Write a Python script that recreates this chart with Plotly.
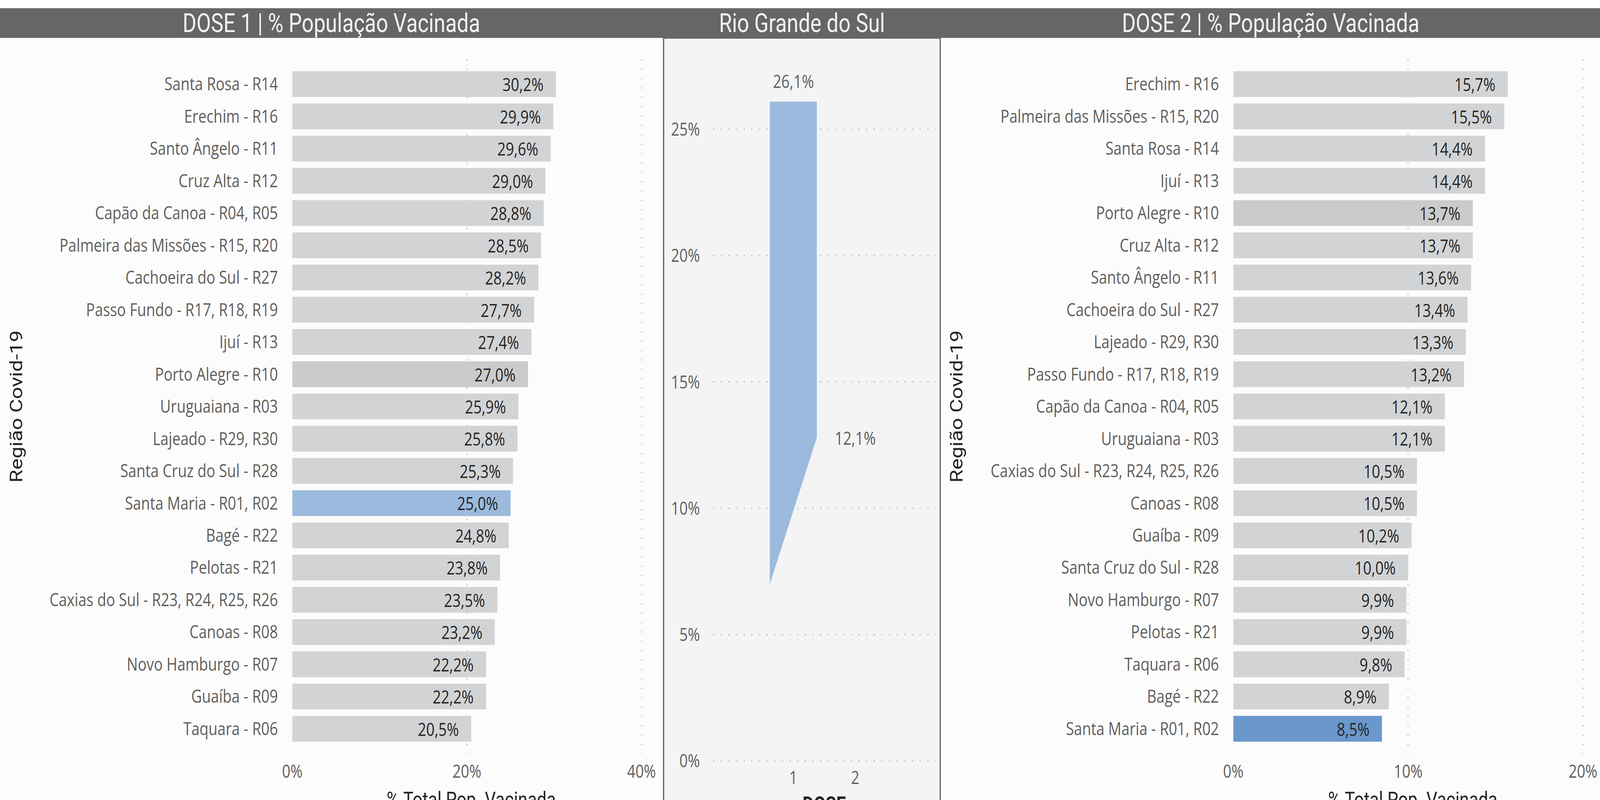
import plotly.graph_objects as go

W, H = 5020, 2047

# ---------------- data ----------------
dose1_regioes = [
    "Santa Rosa - R14", "Erechim - R16", "Santo Ângelo - R11", "Cruz Alta - R12",
    "Capão da Canoa - R04, R05", "Palmeira das Missões - R15, R20", "Cachoeira do Sul - R27",
    "Passo Fundo - R17, R18, R19", "Ijuí - R13", "Porto Alegre - R10", "Uruguaiana - R03",
    "Lajeado - R29, R30", "Santa Cruz do Sul - R28", "Santa Maria - R01, R02", "Bagé - R22",
    "Pelotas - R21", "Caxias do Sul - R23, R24, R25, R26", "Canoas - R08",
    "Novo Hamburgo - R07", "Guaíba - R09", "Taquara - R06",
]
dose1_pct = [30.2, 29.9, 29.6, 29.0, 28.8, 28.5, 28.2, 27.7, 27.4, 27.0, 25.9,
             25.8, 25.3, 25.0, 24.8, 23.8, 23.5, 23.2, 22.2, 22.2, 20.5]

dose2_regioes = [
    "Erechim - R16", "Palmeira das Missões - R15, R20", "Santa Rosa - R14", "Ijuí - R13",
    "Porto Alegre - R10", "Cruz Alta - R12", "Santo Ângelo - R11", "Cachoeira do Sul - R27",
    "Lajeado - R29, R30", "Passo Fundo - R17, R18, R19", "Capão da Canoa - R04, R05",
    "Uruguaiana - R03", "Caxias do Sul - R23, R24, R25, R26", "Canoas - R08", "Guaíba - R09",
    "Santa Cruz do Sul - R28", "Novo Hamburgo - R07", "Pelotas - R21", "Taquara - R06",
    "Bagé - R22", "Santa Maria - R01, R02",
]
dose2_pct = [15.7, 15.5, 14.4, 14.4, 13.7, 13.7, 13.6, 13.4, 13.3, 13.2, 12.1,
             12.1, 10.5, 10.5, 10.2, 10.0, 9.9, 9.9, 9.8, 8.9, 8.5]

rs_doses = [1, 2]
rs_pct = [26.1, 12.1]
rs_faixa_base = [7.0, 12.8]   # lower edge of the blue shape as drawn

x_ticks_d1 = [0, 20, 40]
x_ticks_d2 = [0, 10, 20]
y_ticks_rs = [0, 5, 10, 15, 20, 25]

# ---------------- styles ----------------
GRAY_BAR = "#D2D3D5"
SEL_GRAY = "#CBCBCB"
BLUE1 = "#9BBADD"
BLUE2 = "#6A98CC"
HEADER = "#666666"
TXT_GRAY = "#605E5C"
TXT_DARK = "#252423"
FONT = "Open Sans"
DIN = "Roboto"


def px_x(x):
    return x / W


def px_y(y):
    return 1 - y / H


def pct_labels(vals):
    return [f"{v}%" for v in vals]


def colors(regs, hl):
    out = []
    for r in regs:
        if r.startswith("Santa Maria"):
            out.append(hl)
        elif r.startswith("Porto Alegre"):
            out.append(SEL_GRAY)
        else:
            out.append(GRAY_BAR)
    return out


NB = "\u00a0\u00a0\u00a0"

fig = go.Figure()

fig.add_trace(go.Bar(
    x=dose1_pct, y=dose1_regioes, orientation="h",
    marker=dict(color=colors(dose1_regioes, BLUE1), line=dict(width=0)),
    texttemplate="%{x:.1f}%" + NB, textposition="inside", insidetextanchor="end",
    textfont=dict(family=FONT, size=46, color=TXT_DARK), constraintext="none",
    xaxis="x", yaxis="y", showlegend=False, hoverinfo="skip",
))

fig.add_trace(go.Bar(
    x=dose2_pct, y=dose2_regioes, orientation="h",
    marker=dict(color=colors(dose2_regioes, BLUE2), line=dict(width=0)),
    texttemplate="%{x:.1f}%" + NB, textposition="inside", insidetextanchor="end",
    textfont=dict(family=FONT, size=46, color=TXT_DARK), constraintext="none",
    xaxis="x3", yaxis="y3", showlegend=False, hoverinfo="skip",
))

# middle shape (Rio Grande do Sul)
hw = 0.38
cx = rs_doses[0]
fig.add_trace(go.Scatter(
    x=[cx - hw, cx + hw, cx + hw, cx - hw, cx - hw],
    y=[rs_pct[0], rs_pct[0], rs_faixa_base[1], rs_faixa_base[0], rs_pct[0]],
    fill="toself", fillcolor=BLUE1, mode="lines", line=dict(width=0, color=BLUE1),
    xaxis="x2", yaxis="y2", showlegend=False, hoverinfo="skip",
))

shapes = [
    dict(type="rect", xref="paper", yref="paper", x0=0, x1=1, y0=px_y(21), y1=1,
         fillcolor="white", line=dict(width=0), layer="below"),
    dict(type="rect", xref="paper", yref="paper", x0=px_x(2082), x1=px_x(2950),
         y0=px_y(2060), y1=px_y(97), fillcolor="#F4F4F4",
         line=dict(color=HEADER, width=4), layer="below"),
    dict(type="rect", xref="paper", yref="paper", x0=0, x1=1, y0=px_y(97), y1=px_y(21),
         fillcolor=HEADER, line=dict(width=0), layer="above"),
]

annotations = []
for txt, xc in [("DOSE 1 | % População Vacinada", 1040),
                ("Rio Grande do Sul", 2516),
                ("DOSE 2 | % População Vacinada", 3987)]:
    annotations.append(dict(text=txt, x=px_x(xc), y=px_y(59), xref="paper", yref="paper",
                            xanchor="center", yanchor="middle", showarrow=False,
                            font=dict(family=DIN, size=66, color="#F2F2F2")))

for xc in [51, 3001]:
    annotations.append(dict(text="Região Covid-19", x=px_x(xc), y=px_y(1040), xref="paper",
                            yref="paper", xanchor="center", yanchor="middle", textangle=-90,
                            showarrow=False, font=dict(family=DIN, size=54, color=TXT_DARK)))

for xc in [1478, 4432]:
    annotations.append(dict(text="% Total Pop. Vacinada", x=px_x(xc), y=px_y(2012),
                            xref="paper", yref="paper", xanchor="center", yanchor="top",
                            showarrow=False, font=dict(family=DIN, size=54, color=TXT_DARK)))
annotations.append(dict(text="<b>DOSE</b>", x=px_x(2586), y=px_y(2024), xref="paper",
                        yref="paper", xanchor="center", yanchor="top", showarrow=False,
                        font=dict(family=DIN, size=54, color=TXT_DARK)))

annotations.append(dict(text=f"{rs_pct[0]:.1f}%".replace(".", ","), x=rs_doses[0], y=rs_pct[0],
                        xref="x2", yref="y2", xanchor="center", yanchor="bottom", yshift=20,
                        showarrow=False, font=dict(family=FONT, size=46, color=TXT_GRAY)))
annotations.append(dict(text=f"{rs_pct[1]:.1f}%".replace(".", ","), x=rs_doses[1],
                        y=rs_faixa_base[1], xref="x2", yref="y2", xanchor="center",
                        yanchor="middle", showarrow=False,
                        font=dict(family=FONT, size=46, color=TXT_GRAY)))

grid_common = dict(showgrid=True, gridcolor="#C8C8C8", gridwidth=4, griddash="4px,20px",
                   zeroline=False, showline=False, ticks="",
                   tickfont=dict(family=FONT, size=46, color=TXT_GRAY))

ydom = [px_y(1929), px_y(151)]
ycommon = dict(type="category", range=[20.78, -0.78], showgrid=False, zeroline=False,
               showline=False, ticks="", ticklabelstandoff=44, automargin=False,
               tickfont=dict(family=FONT, size=46, color=TXT_GRAY))

fig.update_layout(
    width=W, height=H, margin=dict(l=0, r=0, t=0, b=0, autoexpand=False),
    paper_bgcolor="#FCFCFC", plot_bgcolor="rgba(0,0,0,0)",
    separators=",.", bargap=0.2, showlegend=False,
    xaxis=dict(domain=[px_x(917), px_x(2040)], range=[0, 41], tickvals=x_ticks_d1,
               ticktext=pct_labels(x_ticks_d1), anchor="y", ticklabelstandoff=14,
               automargin=False, **grid_common),
    yaxis=dict(domain=ydom, anchor="x", **ycommon),
    xaxis3=dict(domain=[px_x(3869.5), px_x(4994)], range=[0, 20.5], tickvals=x_ticks_d2,
                ticktext=pct_labels(x_ticks_d2), anchor="y3", ticklabelstandoff=14,
                automargin=False, **grid_common),
    yaxis3=dict(domain=ydom, anchor="x3", **ycommon),
    xaxis2=dict(domain=[px_x(2237), px_x(2935)], range=[-0.299, 3.299], tickvals=rs_doses,
                anchor="y2", showgrid=False, zeroline=False, showline=False, ticks="",
                ticklabelstandoff=6, automargin=False,
                tickfont=dict(family=FONT, size=46, color=TXT_GRAY)),
    yaxis2=dict(domain=[px_y(1953.5), px_y(150)], range=[-0.1, 27.8], tickvals=y_ticks_rs,
                ticktext=pct_labels(y_ticks_rs), anchor="x2", ticklabelstandoff=40,
                automargin=False, **grid_common),
    shapes=shapes, annotations=annotations,
)

fit_script = """
(function(){
  var gd = document.getElementById('{plot_id}');
  document.documentElement.style.overflow = 'hidden';
  document.documentElement.style.margin = '0';
  document.body.style.margin = '0';
  document.body.style.padding = '0';
  document.body.style.overflow = 'hidden';
  function fit(){
    var sx = window.innerWidth / %d, sy = window.innerHeight / %d;
    gd.style.position = 'fixed';
    gd.style.left = '0px';
    gd.style.top = '0px';
    gd.style.margin = '0';
    gd.style.transformOrigin = '0 0';
    gd.style.transform = 'scale(' + sx + ',' + sy + ')';
  }
  fit();
  window.addEventListener('resize', fit);
})();
""" % (W, H)

fig.write_html("out.html", post_script=fit_script, config={"displayModeBar": False})
